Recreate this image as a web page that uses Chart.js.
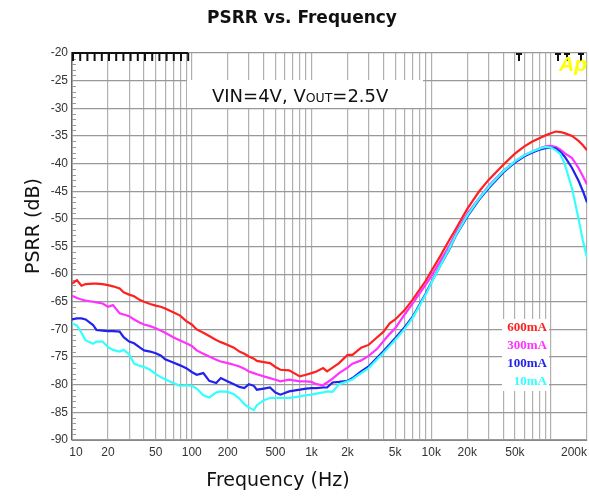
<!DOCTYPE html>
<html>
<head>
<meta charset="utf-8">
<script src="https://cdn.jsdelivr.net/npm/chart.js@4.4.1/dist/chart.umd.min.js"></script>
<style>
  html,body{margin:0;padding:0;background:#fff;}
  #c{display:block;}
</style>
</head>
<body>
<canvas id="c" width="589" height="497"></canvas>
<script>
// ---- data ----
const freq = [10,11,12,13,15,16,18,20,22,25,27,30,33,37,40,45,50,55,60,70,80,90,100,110,125,140,160,175,200,225,250,275,300,330,350,400,450,500,550,650,800,900,1000,1100,1250,1350,1500,1700,2000,2200,2600,3000,3500,4000,4500,5000,6000,7000,8000,9000,10000,12000,14000,16000,20000,25000,30000,40000,50000,60000,70000,80000,90000,100000,110000,120000,130000,150000,170000,185000,200000];

const psrr600 = [-61.7,-61.1,-62.1,-61.8,-61.7,-61.7,-61.8,-62.0,-62.2,-62.6,-63.3,-63.7,-64.0,-64.7,-65.0,-65.4,-65.7,-65.9,-66.2,-66.9,-67.5,-68.5,-69.1,-70.0,-70.6,-71.2,-71.9,-72.3,-72.8,-73.3,-74.0,-74.4,-74.9,-75.3,-75.7,-75.9,-76.1,-76.8,-77.3,-77.4,-78.5,-78.2,-77.9,-77.6,-77.0,-77.6,-76.9,-76.1,-74.6,-74.6,-73.3,-72.8,-71.5,-70.4,-68.9,-68.2,-66.5,-64.6,-62.8,-61.2,-59.5,-56.6,-54.0,-51.9,-48.2,-45.1,-43.0,-40.2,-38.2,-36.9,-36.0,-35.4,-34.9,-34.5,-34.2,-34.3,-34.5,-35.0,-35.9,-36.7,-37.6];

const psrr300 = [-63.9,-64.3,-64.6,-64.8,-65.0,-65.1,-65.3,-65.9,-65.6,-67.1,-67.3,-67.6,-68.2,-68.8,-69.1,-69.4,-69.8,-70.2,-70.6,-71.4,-72.0,-72.5,-73.0,-73.8,-74.4,-74.9,-75.5,-75.8,-76.1,-76.4,-76.7,-77.1,-77.6,-77.9,-78.1,-78.5,-78.8,-79.1,-79.4,-79.1,-79.4,-79.4,-79.5,-79.9,-80.1,-79.6,-78.9,-77.9,-76.9,-76.2,-75.6,-74.8,-73.6,-72.1,-70.8,-69.8,-67.3,-65.3,-63.5,-61.9,-60.4,-57.5,-55.1,-52.6,-49.1,-46.3,-44.1,-41.3,-39.6,-38.5,-37.8,-37.3,-36.9,-36.8,-37.0,-37.5,-38.1,-39.0,-40.8,-42.3,-43.8];

const psrr100 = [-68.2,-68.0,-68.0,-68.2,-69.2,-70.1,-70.2,-70.3,-70.3,-70.4,-71.4,-72.2,-72.5,-73.3,-73.8,-74.0,-74.3,-74.7,-75.4,-76.0,-76.5,-77.0,-77.7,-78.2,-77.9,-79.3,-79.7,-78.8,-79.4,-79.9,-80.4,-80.6,-79.9,-80.2,-80.9,-80.7,-80.5,-81.4,-81.8,-81.2,-80.9,-80.7,-80.6,-80.6,-80.5,-80.5,-79.6,-79.5,-79.3,-78.8,-77.6,-76.7,-75.2,-73.9,-72.7,-71.6,-69.6,-67.7,-65.5,-63.5,-61.5,-58.3,-55.7,-53.1,-49.6,-46.6,-44.5,-41.6,-39.8,-38.7,-38.0,-37.5,-37.2,-37.1,-37.3,-37.9,-38.7,-40.8,-43.1,-45.0,-47.0];

const psrr10 = [-68.9,-69.3,-70.6,-72.0,-72.6,-72.2,-72.2,-73.2,-73.7,-74.0,-73.7,-74.5,-76.2,-76.6,-76.8,-77.3,-78.1,-78.6,-79.0,-79.7,-80.2,-80.1,-80.2,-80.7,-81.9,-82.3,-81.4,-81.2,-81.3,-81.7,-82.5,-83.5,-84.1,-84.6,-83.7,-82.8,-82.4,-82.4,-82.4,-82.4,-82.1,-81.9,-81.8,-81.6,-81.4,-81.2,-81.3,-79.9,-79.4,-79.0,-77.9,-77.0,-75.5,-74.2,-73.0,-71.9,-69.9,-67.9,-65.7,-63.7,-61.6,-58.3,-55.6,-53.0,-49.4,-46.4,-44.3,-41.4,-39.6,-38.5,-37.8,-37.3,-37.0,-37.1,-37.6,-38.3,-40.0,-44.5,-50.0,-54.0,-57.0];

const seriesNames = ['600mA','300mA','100mA','10mA'];
const seriesColors = ['#ff2020','#ff33ff','#2222ee','#33ffff'];
const seriesValues = [psrr600, psrr300, psrr100, psrr10];

const xGridValues = [10,20,30,40,50,60,70,80,90,100,200,300,400,500,600,700,800,900,1000,2000,3000,4000,5000,6000,7000,8000,9000,10000,20000,30000,40000,50000,60000,70000,80000,90000,100000,200000];
const xTickLabels = {10:'10',20:'20',50:'50',100:'100',200:'200',500:'500',1000:'1k',2000:'2k',5000:'5k',10000:'10k',20000:'20k',50000:'50k',200000:'200k'};
const yMin = -90, yMax = -20, yStep = 5;

const titleText = 'PSRR vs. Frequency';
const xTitleText = 'Frequency (Hz)';
const yTitleText = 'PSRR (dB)';

// ---- chart ----
const datasets = seriesValues.map((vals, i) => ({
  label: seriesNames[i],
  data: freq.map((f, j) => ({x: f, y: vals[j]})),
  borderColor: seriesColors[i],
  backgroundColor: seriesColors[i],
  borderWidth: 2.2,
  pointRadius: 0,
  tension: 0,
  fill: false
})).reverse();

const decoPlugin = {
  id: 'deco',
  beforeDraw(chart) {
    // keep the last x label inside the canvas (right aligned at the axis end)
    const xs = chart.scales.x;
    const items = xs.getLabelItems();
    items.forEach(it => {
      if (it.label === xTickLabels[200000]) {
        it.options.textAlign = 'right';
        it.options.translation[0] = chart.chartArea.right;
      }
      if (it.label === xTickLabels[10]) {
        it.options.translation[0] += 4;
      }
    });
  },
  beforeDatasetsDraw(chart) {
    const ctx = chart.ctx;
    const a = chart.chartArea;
    const ys = chart.scales.y;
    ctx.save();
    // minor y ticks
    ctx.strokeStyle = '#999';
    ctx.lineWidth = 1;
    for (let v = yMin; v <= yMax; v++) {
      if (v % 5 === 0) continue;
      const py = Math.round(ys.getPixelForValue(v)) + 0.5;
      ctx.beginPath(); ctx.moveTo(a.left, py); ctx.lineTo(a.left + 4, py); ctx.stroke();
    }
    // annotation box
    ctx.fillStyle = '#fff';
    ctx.fillRect(187, 80, 236, 28);
    ctx.fillStyle = '#111';
    ctx.textBaseline = 'alphabetic';
    ctx.textAlign = 'left';
    let x = 212;
    const base = 102;
    ctx.font = '18px "DejaVu Sans", sans-serif';
    const p1 = 'VIN=4V, V';
    ctx.fillText(p1, x, base); x += ctx.measureText(p1).width;
    ctx.font = '12.5px "DejaVu Sans", sans-serif';
    const p2 = 'OUT';
    ctx.fillText(p2, x, base); x += ctx.measureText(p2).width;
    ctx.font = '18px "DejaVu Sans", sans-serif';
    ctx.fillText('=2.5V', x, base);
    // legend box
    ctx.fillStyle = '#fff';
    ctx.fillRect(502, 319, 47, 72);
    ctx.font = 'bold 13px "Liberation Serif", serif';
    ctx.textAlign = 'right';
    ctx.textBaseline = 'middle';
    const ly = [328, 346, 364, 382];
    seriesNames.forEach((n, i) => {
      ctx.fillStyle = seriesColors[i];
      ctx.fillText(n, 547, ly[i]);
    });
    ctx.restore();
  },
  afterDraw(chart) {
    const ctx = chart.ctx;
    const a = chart.chartArea;
    ctx.save();
    // top "T" marks
    ctx.strokeStyle = '#111';
    ctx.lineWidth = 2;
    ctx.beginPath(); ctx.moveTo(a.left, a.top); ctx.lineTo(188, a.top); ctx.stroke();
    for (let i = 0; i <= 16; i++) {
      const px = a.left + 1 + i * 7.2;
      ctx.beginPath(); ctx.moveTo(px, a.top); ctx.lineTo(px, a.top + 8); ctx.stroke();
    }
    [519, 558, 567, 581].forEach(px => {
      ctx.beginPath(); ctx.moveTo(px - 3, a.top + 1); ctx.lineTo(px + 3, a.top + 1); ctx.stroke();
      ctx.beginPath(); ctx.moveTo(px, a.top); ctx.lineTo(px, a.top + 8); ctx.stroke();
    });
    // Ap logo
    ctx.fillStyle = '#ffff00';
    ctx.font = 'italic bold 21px "Liberation Sans", sans-serif';
    ctx.textAlign = 'left';
    ctx.textBaseline = 'alphabetic';
    ctx.fillText('Ap', 559, 71);
    // titles
    ctx.fillStyle = '#111';
    ctx.textAlign = 'center';
    ctx.textBaseline = 'middle';
    ctx.font = 'bold 17px "DejaVu Sans", sans-serif';
    ctx.fillText(titleText, 302, 19);
    ctx.font = '19px "DejaVu Sans", sans-serif';
    ctx.fillText(xTitleText, 278, 481);
    ctx.translate(34, 226);
    ctx.rotate(-Math.PI / 2);
    ctx.fillText(yTitleText, 0, 0);
    ctx.restore();
  }
};

new Chart(document.getElementById('c'), {
  type: 'line',
  data: { datasets },
  options: {
    responsive: false,
    devicePixelRatio: 1,
    animation: false,
    layout: { padding: { top: 53, left: 0, right: 2, bottom: 0 } },
    plugins: { legend: { display: false }, title: { display: false }, tooltip: { enabled: false } },
    scales: {
      x: {
        type: 'logarithmic',
        min: 10, max: 200000,
        afterBuildTicks(scale) { scale.ticks = xGridValues.map(v => ({ value: v })); },
        afterFit(scale) { scale.height = 57; scale.paddingLeft = 0; scale.paddingRight = 0; },
        ticks: {
          autoSkip: false, maxRotation: 0, minRotation: 0, padding: 5,
          color: '#333',
          font: { family: '"Liberation Sans Narrow", "Liberation Sans", sans-serif', size: 12 },
          callback: (v) => xTickLabels[v] || ''
        },
        grid: { color: '#b0b0b0', lineWidth: 1.2, drawTicks: false },
        border: { color: '#888', width: 1 }
      },
      y: {
        type: 'linear',
        min: yMin, max: yMax,
        afterFit(scale) { scale.width = 72; scale.paddingTop = 0; scale.paddingBottom = 0; },
        ticks: {
          stepSize: yStep, padding: 4,
          color: '#333',
          font: { family: '"Liberation Sans Narrow", "Liberation Sans", sans-serif', size: 12 },
          callback: (v) => String(v)
        },
        grid: { color: '#999', lineWidth: 1.2, drawTicks: false },
        border: { color: '#666', width: 1.5 }
      }
    }
  },
  plugins: [decoPlugin]
});
</script>
</body>
</html>
